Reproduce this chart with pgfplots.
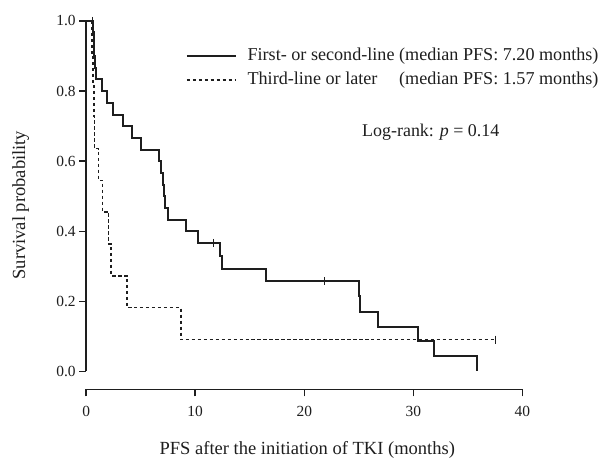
\documentclass[border=0pt]{standalone}
\usepackage{fontspec}
\setmainfont{Liberation Serif}
\usepackage{pgfplots}
\pgfplotsset{compat=1.18}

\definecolor{ink}{HTML}{1E1E1E}
\newlength\legw

\begin{document}
\settowidth\legw{\fontsize{18.2}{18.2}\selectfont First- or second-line (median PFS: 7.20 months)}
\begin{tikzpicture}
\begin{axis}[
    scale only axis,
    width=438pt, height=370pt,
    xmin=0, xmax=40,
    ymin=-0.0511, ymax=1.0,
    clip=false,
    axis x line*=bottom,
    axis y line*=left,
    x axis line style={-, line width=1.5pt, ink},
    y axis line style={draw=none},
    xtick={0,10,20,30,40},
    ytick={0,0.2,0.4,0.6,0.8,1.0},
    tick align=outside,
    major tick length=7pt,
    tick style={line width=1.5pt, ink},
    minor tick num=0,
    /pgf/number format/assume math mode=true,
    yticklabel={\pgfmathprintnumber[fixed,fixed zerofill,precision=1]{\tick}},
    xticklabel style={yshift=-6pt},
    ticklabel style={font=\fontsize{15.5}{15.5}\selectfont, text=ink},
    xlabel={PFS after the initiation of TKI (months)},
    ylabel={Survival probability},
    every axis x label/.style={at={(axis description cs:0.507,-0.165)}, anchor=center},
    every axis y label/.style={at={(axis description cs:-0.15,0.5)}, rotate=90, anchor=center},
    label style={font=\fontsize{18.6}{18.6}\selectfont, text=ink},
    legend cell align=left,
    legend style={
        draw=none, fill=none,
        at={(axis cs:8.85,0.866)}, anchor=west,
        font=\fontsize{18.2}{18.2}\selectfont,
        text=ink,
        row sep=7pt,
        nodes={inner xsep=11pt, inner ysep=0pt, text height=13pt, text depth=4pt},
    },
    legend image code/.code={\draw[#1] (0pt,0pt) -- (49pt,0pt);},
]
% y axis line runs only over 0..1
\draw[line width=1.5pt, ink] (axis cs:0,0) -- (axis cs:0,1);

% first- or second-line
\addplot[const plot, ink, line width=2pt] coordinates {
    (0,1) (0.6,0.967) (0.68,0.933) (0.75,0.9) (0.82,0.867) (0.88,0.833)
    (1.46,0.8) (1.95,0.767) (2.43,0.733) (3.38,0.7) (4.23,0.667) (5.02,0.633)
    (6.7,0.6) (6.85,0.567) (7.03,0.533) (7.15,0.5) (7.25,0.467) (7.5,0.433)
    (9.16,0.4) (10.3,0.367) (12.27,0.33) (12.5,0.293) (16.5,0.257)
    (25.0,0.214) (25.1,0.171) (26.8,0.128) (30.4,0.0857) (31.9,0.043) (35.8,0)
};
\addlegendentry{First- or second-line (median PFS: 7.20 months)}

% third-line or later
\addplot[const plot, ink, line width=1.5pt, dash pattern=on 3.5pt off 2.5pt] coordinates {
    (0,1) (0.55,0.909) (0.62,0.818) (0.7,0.727) (0.76,0.636) (1.15,0.545)
    (1.52,0.455) (2.07,0.364) (2.3,0.273) (3.74,0.182) (8.68,0.091) (37.5,0.091)
};
\addlegendentry{\makebox[\legw][l]{Third-line or later\hfill(median PFS: 1.57 months)}}

% censored observations
\addplot[only marks, mark=|, mark size=4pt, ink, line width=1.1pt, forget plot] coordinates {
    (0.6,1.0) (11.65,0.367) (21.86,0.257)
};
\addplot[only marks, mark=|, mark size=4pt, ink, line width=1.1pt, forget plot] coordinates {
    (37.5,0.091)
};

\node[font=\fontsize{18}{18}\selectfont, text=ink] at (axis cs:31.6,0.682) {Log-rank: \textit{p} = 0.14};

\coordinate (o) at (rel axis cs:0,0);
\coordinate (t) at (rel axis cs:1,1);
\end{axis}
\pgfresetboundingbox
\path ([shift={(-84pt,-69pt)}]o) rectangle ([shift={(86pt,21pt)}]t);
\end{tikzpicture}
\end{document}
